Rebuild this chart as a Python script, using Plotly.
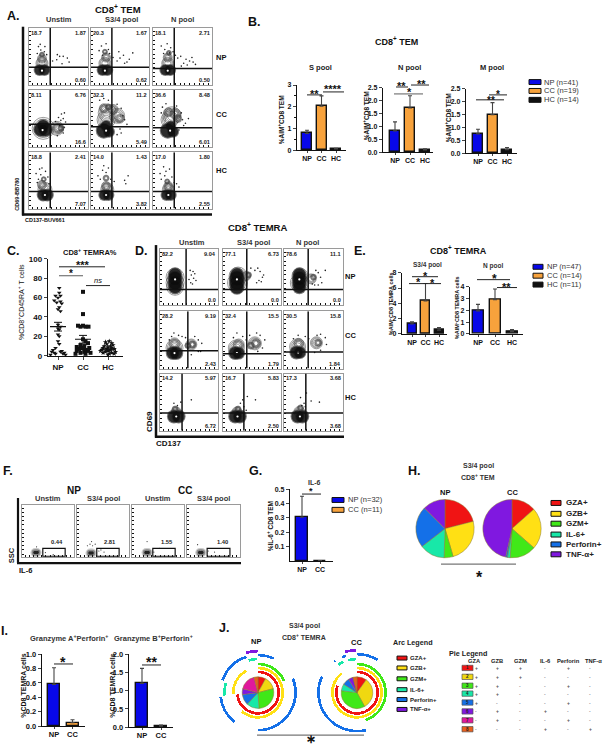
import plotly.graph_objects as go

W, H = 603, 750
FONT = "Liberation Sans"
BLUE, ORANGE, BLK = "#0808E8", "#F7A23C", "#111111"
PIE_COL = ["#F01414", "#FFE014", "#40E818", "#18E8A8", "#1470E8", "#8018E0"]
PIE8_COL = ["#F01414", "#F0D810", "#40E818", "#18E8A8", "#1470E8", "#8018E0", "#E0189C", "#E8601C"]

# ---------- bar data ----------
groups3 = ["NP", "CC", "HC"]
groups2 = ["NP", "CC"]
b_s_vals = [0.77, 2.03, 0.06]; b_s_err = [0.15, 0.47, 0.03]
b_n_vals = [0.83, 1.72, 0.09]; b_n_err = [0.35, 0.48, 0.04]
b_m_vals = [0.75, 1.50, 0.14]; b_m_err = [0.18, 0.47, 0.08]
e_s_vals = [1.3, 4.3, 0.5]; e_s_err = [0.3, 2.3, 0.35]
e_n_vals = [1.95, 2.9, 0.2]; e_n_err = [0.55, 0.9, 0.18]
g_vals = [0.305, 0.002]; g_err = [0.145, 0.002]
i_a_vals = [0.58, 0.05]; i_a_err = [0.23, 0.04]
i_b_vals = [1.2, 0.03]; i_b_err = [0.41, 0.03]

# ---------- panel C ----------
c_np_vals = [70,65,62,62,60,57,56,55,54,50,48,46,32,30,28,27,22,20,15,12,8,6,5,4,4,3,3,2,2,1,1]
c_np_off = [.05,.05,-.1,.1,0,-.15,.1,-.05,.15,.05,0,.1,0,.1,0,.05,0,.05,0,.05,-.1,-.2,.15,-.25,.1,-.15,.25,-.1,.2,-.3,.3]
c_cc_vals = [66,43,31,31,30,30,30,17,15,13,11,10,9,8,8,7,6,5,5,4,3,3,2,2]
c_cc_off = [0,0,-.2,0,.1,.22,-.1,0,.1,.2,-.1,.05,-.25,.25,0,-.15,.15,-.25,.2,.05,-.1,.3,-.3,.1]
c_hc_vals = [15,14,13,12,11,10,10,9,8,8,7,7,6,6,5,5,4,4,3,3,2,2,1]
c_hc_off = [.05,-.1,.15,-.05,.2,-.15,.1,0,-.2,.15,-.05,.25,-.25,.1,0,-.3,.3,-.1,.15,-.2,.05,.25,0]
c_means = [30, 17, 6]; c_sem = [4.5, 4, 1.2]

# ---------- flow panel A ----------
A_labels = [["18.7","1.87","0.60"],["20.3","1.67","0.62"],["18.1","2.71","0.50"],
            ["8.11","6.76","16.6"],["32.3","11.2","5.49"],["36.6","8.48","6.01"],
            ["18.8","2.41","7.07"],["14.0","1.43","3.82"],["17.0","1.80","2.55"]]
A_gates = [(36,31),(36,31),(36,29),(36,40),(36,36),(36,34),(36,30),(36,30),(36,30)]
A_core = [[(18,26,10),(26,26,10)],[(20,26,10),(28,26,10)],[(21,26,10),(29,26,10)],
          [(20,31,13),(28,31,13),(24,38,11)],[(22,29,14),(31,27,10),(26,37,10)],[(25,29,14),(34,27,10),(30,37,9)],
          [(24,24,11),(31,24,11)],[(23,24,10),(30,24,10)],[(23,24,10),(30,24,10)]]
A_rings = [[(22,38,12),(22,46,9),(22,53,5)],[(24,38,12),(26,48,9),(24,58,5)],[(25,38,12),(25,48,9),(27,56,5)],
           [(24,33,22),(47,33,14),(50,33,10),(54,33,6)],[(28,60,18),(45,55,15),(22,68,9),(38,66,10),(50,50,9),(26,48,18),(30,70,6)],
           [(32,55,18),(26,61,9),(38,58,11),(42,50,8),(28,48,17)],
           [(22,42,9),(25,52,5),(27,34,14)],[(26,40,9),(26,54,6),(28,34,13)],[(26,40,9),(24,48,5),(26,34,12)]]
A_dots = [[(16,67),(20,61),(26,58),(14,55),(30,53),(27,67),(19,71),(48,53),(52,50),(58,50),(65,47),(47,44),(40,42),(68,40),(56,37)],
          [(14,60),(18,68),(26,72),(32,55),(20,52),(30,62),(38,48),(45,42),(50,47),(56,52),(62,40),(66,45),(58,38),(72,56),(48,58)],
          [(14,68),(20,62),(24,72),(30,65),(34,58),(38,52),(42,47),(47,50),(52,38),(56,45),(62,42),(66,48),(68,40),(72,36),(58,35),(48,33),(28,56),(18,55)],
          [(50,52),(55,58),(58,50),(60,60),(52,38),(58,25),(60,35),(48,20),(54,47),(62,44),(45,45)],
          [(15,82),(22,85),(30,82),(45,75),(52,68),(55,55),(58,48),(50,32),(52,25),(45,22),(62,40)],
          [(16,70),(14,60),(22,76),(40,72),(48,60),(50,48),(55,42),(60,50),(44,30),(52,38)],
          [(12,62),(18,70),(22,72),(28,66),(16,52),(32,56),(14,46),(34,44),(20,60)],
          [(12,58),(20,68),(26,64),(30,72),(16,52),(34,52),(40,48),(58,50),(64,58),(60,44),(22,76)],
          [(12,62),(18,74),(22,66),(28,70),(14,52),(32,56),(36,46),(40,44),(20,58),(44,38)]]
A_spot = [(22,25),(24,25),(25,25),(23,30),(26,29),(29,29),(27,24),(26,24),(26,24)]

# ---------- flow panel D ----------
D_labels = [["82.2","9.04","0.0"],["77.1","6.73","0.0"],["78.6","11.1","0.0"],
            ["28.2","9.19","2.43"],["32.4","15.5","1.79"],["30.5","15.8","1.84"],
            ["14.2","5.97","6.72"],["16.7","5.83","2.50"],["17.3","3.68","3.68"]]
D_gates = [(45,28),(41,28),(41,28),(48,31),(41,26),(41,29),(38,31),(36,31),(37,31)]
D_core = [[(26,32,12),(26,40,13),(26,48,13),(26,55,12)],[(24,32,13),(24,40,14),(24,48,14),(24,55,12)],[(26,32,12),(26,40,13),(26,48,13),(26,55,12)],
          [(22,27,12),(28,27,12)],[(21,27,12),(27,27,11)],[(21,28,12),(27,28,11)],
          [(24,25,12),(32,25,12)],[(21,25,12),(29,25,12)],[(23,25,12),(31,25,12)]]
D_rings = [[(26,40,18),(26,50,18),(26,33,17)],[(25,40,20),(26,52,18),(40,52,9),(44,54,6)],[(26,40,18),(27,52,16),(46,47,10),(50,50,6)],
           [(25,36,17),(25,44,11),(54,42,11),(56,42,7),(48,40,6)],[(23,36,16),(27,42,11),(55,44,13),(57,44,9),(48,40,7)],[(23,38,16),(25,44,10),(55,45,12),(58,45,7)],
           [(28,33,10),(26,38,6)],[(24,33,10),(26,38,6)],[(26,33,11),(28,40,6)]]
D_dots = [[(52,62),(54,54),(57,60),(50,46),(58,48),(60,56),(53,40),(62,44),(56,38)],
          [(55,62),(60,66),(64,60),(68,50),(62,44),(58,40),(48,66),(66,42),(70,54)],
          [(54,62),(58,58),(62,50),(70,62),(64,40),(52,36),(48,38),(58,36)],
          [(20,56),(24,62),(32,58),(38,56),(16,50),(44,54),(60,56),(66,50),(72,44),(66,30),(54,24),(70,30)],
          [(18,54),(24,62),(34,56),(40,50),(46,58),(58,62),(64,58),(72,50),(68,36),(60,30)],
          [(16,52),(24,58),(36,56),(42,52),(56,58),(62,60),(70,54),(72,42),(62,32),(52,28)],
          [(24,48),(30,44),(36,50),(54,54)],
          [(30,48),(34,54),(36,42),(42,60),(56,54),(40,36)],
          [(28,58),(34,48),(38,66),(36,42),(46,52),(60,50),(30,44)]]
D_spot = [(26,46),(24,46),(26,46),(25,27),(24,27),(24,28),(28,25),(25,25),(27,25)]

flow_ticks = [6,14,22,30,38,46,54,62,70,78,86,94]

# ---------- flow panel F ----------
F_titles = ["Unstim", "S3/4 pool", "Unstim", "S3/4 pool"]
F_labels = ["0.44", "2.81", "1.55", "1.40"]
F_blob = [(27,9),(27,8),(29,9),(26,9)]
F_gate_x = [(40,83),(38,81),(40,83),(38,81)]
F_gate_y = (2,17)
F_dots = [[(32,12),(28,20),(45,9),(60,5)],
          [(20,22),(25,25),(30,22),(35,25),(28,30),(42,12),(46,14),(52,10)],
          [(29,30),(42,10),(53,17)],
          [(20,24),(40,12),(52,10)]]

# ---------- pies ----------
h_labels = ["GZA+", "GZB+", "GZM+", "IL-6+", "Perforin+", "TNF-α+"]
h_np = [21, 24.5, 5, 14, 23, 12.5]
h_cc = [13.5, 23, 14.5, 1.5, 1, 46.5]
j_pie_np = [8, 13, 28, 13, 11, 6, 17, 4]
j_pie_cc = [10, 32, 35, 7, 7, 5, 0, 4]

# arcs: (category index, radius, start angle, end angle)
j_arcs_np = [(0,21,0,265),(1,25,0,221),(1,25,266,332),(2,29,0,66),(3,34,265,287),(3,34,344,358),
             (4,38,68,180),(4,38,219,263),(4,38,289,342),(4,38,0,25),(5,42,343,360)]
j_arcs_cc = [(0,21,0,290),(1,25,0,322),(2,29,0,163),(3,34,345,359),(3,34,326,336),
             (4,39,166,295),(4,39,0,32),(4,39,337,343),(4,39,324,326),(5,43,344,359)]

pie_cols = ["GZA", "GZB", "GZM", "IL-6", "Perforin", "TNF-α"]
pie_rows = ["+++-+-", "+++---", "++--+-", "++----", "+---+-", "-+-+--", "-+--+-", "---+-+"]

# ---------- machinery ----------
fig = go.Figure()
layout = {}
shapes = []
anns = []
nax = [0]

def fx(x): return x / W
def fy(y): return 1 - y / H

def T(x, y, text, size=8, bold=True, angle=0, color="#111", anchor="center", italic=False):
    if "<sup>" in text:
        if angle:
            x -= size * 0.2
        else:
            y -= size * 0.2
    t = f"<b>{text}</b>" if bold else text
    if italic:
        t = f"<i>{t}</i>"
    anns.append(dict(x=fx(x), y=fy(y), xref="paper", yref="paper", text=t, showarrow=False,
                     font=dict(family=FONT, size=size, color=color), textangle=angle,
                     xanchor=anchor, yanchor="middle", align="center", borderpad=0, borderwidth=0))

def star(x, y, n=1, size=10):
    T(x, y + size * 0.22, "*" * n, size=size)

def L(x0, y0, x1, y1, color="#222", width=1.0):
    shapes.append(dict(type="line", xref="paper", yref="paper", x0=fx(x0), y0=fy(y0), x1=fx(x1), y1=fy(y1),
                       line=dict(color=color, width=width)))

def rect(x0, y0, x1, y1, fill, lw=1.0, lc="#111"):
    shapes.append(dict(type="rect", xref="paper", yref="paper", x0=fx(x0), y0=fy(y0), x1=fx(x1), y1=fy(y1),
                       fillcolor=fill, line=dict(color=lc, width=lw)))

def axes(x0, x1, ytop, ybot, xa, ya):
    nax[0] += 1
    n = "" if nax[0] == 1 else str(nax[0])
    xa = dict(domain=[fx(x0), fx(x1)], anchor="y" + n, **xa)
    ya = dict(domain=[fy(ybot), fy(ytop)], anchor="x" + n, **ya)
    layout["xaxis" + n] = xa
    layout["yaxis" + n] = ya
    return "x" + n, "y" + n

def barpanel(x0, x1, ytop, ybot, ymax, centres, cats, vals, errs, colors, ticktext, barw, tsize=7, minor=None, lw=1.4):
    s = centres[1] - centres[0]
    lo = -(centres[0] - x0) / s
    hi = lo + (x1 - x0) / s
    tv = [float(t) for t in ticktext]
    tfont = dict(family=FONT, size=tsize, color="#111", weight="bold")
    ya = dict(range=[0, ymax], tickvals=tv, ticktext=ticktext, ticks="outside", ticklen=3, tickwidth=1.2,
              showline=True, linewidth=lw, linecolor="#111", showgrid=False, zeroline=False, tickfont=tfont)
    if minor:
        ya["minor"] = dict(dtick=minor, ticks="outside", ticklen=2, tickwidth=1, tickcolor="#111")
    xa = dict(type="category", categoryorder="array", categoryarray=cats, range=[lo, hi], ticks="outside", ticklen=2, tickwidth=1.2,
              tickangle=0, ticklabelstandoff=-1, showline=True, linewidth=lw, linecolor="#111", showgrid=False, zeroline=False, tickfont=tfont)
    xn, yn = axes(x0, x1, ytop, ybot, xa, ya)
    for c, v, e, col in zip(cats, vals, errs, colors):
        fig.add_trace(go.Bar(x=[c], y=[v], width=barw / s, xaxis=xn, yaxis=yn, showlegend=False,
                             marker=dict(color=col, line=dict(color="#111", width=1.4)),
                             error_y=dict(type="data", symmetric=False, array=[e], arrayminus=[0], color="#444", thickness=1.1, width=2)))

def flow(box, gate, labels, core, rings, dots, spot, lsize=5.6):
    x0, x1, y0, y1 = box
    base = dict(range=[0, 100], showgrid=False, zeroline=False, showline=True, mirror=True, linecolor="#9a9a9a", linewidth=1,
                ticks="inside", ticklen=2, tickwidth=1, tickcolor="#111", tickvals=flow_ticks, showticklabels=False)
    xn, yn = axes(x0, x1, y0, y1, dict(base), dict(base))
    for scale, col, w in ((1.0, "#333", 0.7), (0.84, "#3a3a3a", 0.7), (0.68, "#444", 0.7), (0.5, "#444", 0.7)):
        fig.add_trace(go.Scatter(x=[r[0] for r in rings], y=[r[1] for r in rings], mode="markers", xaxis=xn, yaxis=yn, showlegend=False,
                                 marker=dict(symbol="circle-open", size=[r[2] * scale for r in rings], color=col, line=dict(width=w, color=col))))
    fig.add_trace(go.Scatter(x=[c[0] for c in core], y=[c[1] for c in core], mode="markers", xaxis=xn, yaxis=yn, showlegend=False,
                             marker=dict(size=[c[2] + 2 for c in core], color="#444", line=dict(width=0))))
    fig.add_trace(go.Scatter(x=[c[0] for c in core], y=[c[1] for c in core], mode="markers", xaxis=xn, yaxis=yn, showlegend=False,
                             marker=dict(size=[c[2] for c in core], color="#0c0c0c", line=dict(width=0))))
    fig.add_trace(go.Scatter(x=[spot[0]], y=[spot[1]], mode="markers", xaxis=xn, yaxis=yn, showlegend=False,
                             marker=dict(size=2.2, color="#fff", line=dict(width=0))))
    fig.add_trace(go.Scatter(x=[d[0] for d in dots], y=[d[1] for d in dots], mode="markers", xaxis=xn, yaxis=yn, showlegend=False,
                             marker=dict(size=1.6, color="#222", line=dict(width=0))))
    v, h = gate
    for sh in (dict(x0=v, x1=v, y0=0, y1=100), dict(x0=0, x1=100, y0=h, y1=h)):
        shapes.append(dict(type="line", xref=xn, yref=yn, line=dict(color="#111", width=1.5), **sh))
    T(x0 + 2, y0 + 5, labels[0], size=lsize, anchor="left", color="#222")
    T(x1 - 2, y0 + 5, labels[1], size=lsize, anchor="right", color="#222")
    T(x1 - 2, y1 - 5, labels[2], size=lsize, anchor="right", color="#222")

def swatches(x0, x1, ys, labels, fills, tx, size=7.5, bold=False, color="#333", h=5):
    for y, lab, c in zip(ys, labels, fills):
        rect(x0, y - h / 2, x1, y + h / 2, c)
        T(tx, y, lab, size=size, bold=bold, anchor="left", color=color)

# ---------- Panel A ----------
A_cols = [(29, 88), (91, 149), (153, 212)]
A_rows = [(24, 82), (87, 145), (150, 207)]
i = 0
for ry in A_rows:
    for cx in A_cols:
        flow((cx[0], cx[1], ry[0], ry[1]), A_gates[i], A_labels[i], A_core[i], A_rings[i], A_dots[i], A_spot[i])
        i += 1
L(23, 23, 23, 214, "#111", 2.5)
L(22, 213, 212, 213, "#111", 2.5)
T(14, 12, "A.", size=12.5)
T(118, 7, "CD8<sup>+</sup> TEM", size=9.5)
for x, s in zip([59, 121, 182], ["Unstim", "S3/4 pool", "N pool"]):
    T(x, 16, s, size=7.5, color="#333")
for y, s in zip([54, 112, 169], groups3):
    T(221, y, s, size=7.5)
T(17, 193, "CD69-BB780", size=5.5, angle=-90)
T(45, 219, "CD137-BUV661", size=5.5)

# ---------- Panel B ----------
T(254, 18, "B.", size=12.5)
T(396, 39, "CD8<sup>+</sup> TEM", size=9)
bcol = [BLUE, ORANGE, BLK]
barpanel(297, 346, 82, 148, 3, [307, 321.5, 336], groups3, b_s_vals, b_s_err, bcol, ["0", "1", "2", "3"], 10, minor=0.5)
barpanel(383, 433, 85, 150, 2.5, [395, 410, 425], groups3, b_n_vals, b_n_err, bcol, ["0.0", "0.5", "1.0", "1.5", "2.0", "2.5"], 10)
barpanel(466, 517, 86, 151, 2.5, [478, 492.5, 507], groups3, b_m_vals, b_m_err, bcol, ["0.0", "0.5", "1.0", "1.5", "2.0", "2.5"], 10)
for x, s in zip([320, 409, 492], ["S pool", "N pool", "M pool"]):
    T(x, 64, s, size=7.5, color="#222")
for x, y in zip([282, 367, 449], [117, 113, 115]):
    T(x, y, "%AIM<sup>+</sup>CD8 TEM", size=6.5, angle=-90)
L(307, 92, 322, 92); star(314, 89, 2, 11)
L(323, 89, 344, 89); star(333, 84, 4, 11)
L(396, 84, 408, 84); star(401, 81, 2, 11)
L(411, 82, 429, 82); star(421, 79, 2, 11)
L(394, 91, 423, 91, "#777", 1.2); star(409, 87, 1, 11)
L(476, 97, 504, 97); star(491, 95, 2, 10)
L(489, 92, 507, 92); star(498, 89, 1, 10)
swatches(529, 541, [79, 88, 97], ["NP (n=41)", "CC (n=19)", "HC (n=14)"], bcol, 544)

# ---------- Panel C ----------
T(14, 250, "C.", size=12.5)
T(90, 253, "CD8<sup>+</sup> TEMRA%", size=7.5)
c_tf = dict(family=FONT, size=8, color="#111", weight="bold")
cx_n, cy_n = axes(48, 123, 258, 356,
    dict(range=[-0.4, 2.6], tickvals=[0, 1, 2], ticktext=groups3, ticks="outside", ticklen=3, tickwidth=1.2, tickangle=0, showline=True, linewidth=1.4,
         linecolor="#111", showgrid=False, zeroline=False, tickfont=dict(family=FONT, size=8, color="#111", weight="bold")),
    dict(range=[0, 100], tickvals=[0, 20, 40, 60, 80, 100], ticks="outside", ticklen=3, tickwidth=1.2, showline=True, linewidth=1.4,
         linecolor="#111", showgrid=False, zeroline=False, tickfont=c_tf))
for idx, (vals, off, sym) in enumerate([(c_np_vals, c_np_off, "triangle-down"), (c_cc_vals, c_cc_off, "square"), (c_hc_vals, c_hc_off, "star")]):
    fig.add_trace(go.Scatter(x=[idx + o for o in off], y=vals, mode="markers", xaxis=cx_n, yaxis=cy_n, showlegend=False, cliponaxis=False,
                             marker=dict(symbol=sym, size=4, color="#111", line=dict(width=0))))
    fig.add_trace(go.Scatter(x=[idx], y=[c_means[idx]], mode="markers", xaxis=cx_n, yaxis=cy_n, showlegend=False,
                             marker=dict(size=0.1, color="#111"),
                             error_x=dict(type="constant", value=0.32, color="#111", thickness=1.2, width=0),
                             error_y=dict(type="data", array=[c_sem[idx]], color="#111", thickness=1, width=4)))
T(23, 302, "%CD8<sup>+</sup>CD45RA<sup>+</sup> T cells", size=7, bold=False, angle=-90)
L(59, 266, 105, 266); star(83, 262, 3, 11)
L(59, 275, 83, 275, "#777", 1.2); star(71, 271, 1, 10)
L(86, 285, 110, 285); T(98, 280, "ns", size=7.5, bold=False, italic=True)

# ---------- Panel D ----------
D_cols = [(160, 218), (223, 281), (284, 343)]
D_rows = [(248, 305), (311, 369), (374, 432)]
i = 0
for ry in D_rows:
    for cx in D_cols:
        flow((cx[0], cx[1], ry[0], ry[1]), D_gates[i], D_labels[i], D_core[i], D_rings[i], D_dots[i], D_spot[i])
        i += 1
L(156, 244, 156, 439, "#111", 2.5)
L(155, 438, 344, 438, "#111", 2.5)
T(141, 250, "D.", size=12.5)
T(257, 228, "CD8<sup>+</sup> TEMRA", size=9.5)
for x, s in zip([192, 253, 307], ["Unstim", "S3/4 pool", "N pool"]):
    T(x, 241, s, size=7.5, color="#333")
for y, s in zip([276, 336, 398], groups3):
    T(350, y, s, size=7.5)
T(150, 423, "CD69", size=8, angle=-90)
T(168, 445, "CD137", size=8)

# ---------- Panel E ----------
T(360, 250, "E.", size=12.5)
T(458, 251, "CD8<sup>+</sup> TEMRA", size=9)
barpanel(402, 447, 272, 334, 8, [412, 425.5, 438], groups3, e_s_vals, e_s_err, bcol, ["0", "2", "4", "6", "8"], 9)
barpanel(470, 523, 286, 334, 4, [478, 495, 511], groups3, e_n_vals, e_n_err, bcol, ["0", "1", "2", "3", "4"], 11)
T(427, 264, "S3/4 pool", size=6.5, color="#333")
T(493, 265, "N pool", size=6.5, color="#333")
T(392, 303, "%AIM<sup>+</sup>CD8 TEMRA cells", size=5.5, angle=-90)
T(458, 307, "%AIM<sup>+</sup>CD8 TEMRA cells", size=5.5, angle=-90)
L(412, 276, 438, 276); star(425, 273, 1, 11)
L(409, 283, 441, 283); star(418, 279, 1, 11); star(433, 280, 1, 11)
L(477, 279, 510, 279); star(494, 276, 1, 12)
L(497, 287, 517, 287); star(506, 284, 2, 11)
swatches(533, 543, [266, 275, 284], ["NP (n=47)", "CC (n=14)", "HC (n=11)"], bcol, 547)

# ---------- Panel F ----------
F_cols = [(22, 74), (77, 129), (132, 184), (187, 240)]
for k, (a, b) in enumerate(F_cols):
    base = dict(range=[0, 100], showgrid=False, zeroline=False, showline=True, mirror=True, linecolor="#9a9a9a", linewidth=1,
                ticks="inside", ticklen=2, tickwidth=1, tickcolor="#111", tickvals=flow_ticks, showticklabels=False)
    xn, yn = axes(a, b, 507, 560, dict(base), dict(base))
    px_, py_ = F_blob[k]
    for sz, col in ((9, "#cccccc"), (6.5, "#8a8a8a"), (3.5, "#222222")):
        fig.add_trace(go.Scatter(x=[px_ - 2, px_ + 2], y=[py_, py_], mode="markers", xaxis=xn, yaxis=yn, showlegend=False,
                                 marker=dict(size=sz, color=col, line=dict(width=0))))
    fig.add_trace(go.Scatter(x=[d[0] for d in F_dots[k]], y=[d[1] for d in F_dots[k]], mode="markers", xaxis=xn, yaxis=yn, showlegend=False,
                             marker=dict(size=1.2, color="#333", line=dict(width=0))))
    shapes.append(dict(type="rect", xref=xn, yref=yn, x0=F_gate_x[k][0], x1=F_gate_x[k][1], y0=F_gate_y[0], y1=F_gate_y[1],
                       line=dict(color="#111", width=1.2)))
    T((a + b) / 2, 501, F_titles[k], size=7.5, color="#333")
    T([57, 110, 167, 222][k], 545, F_labels[k], size=5.8, color="#222")
L(18, 500, 18, 566, "#111", 2.2)
L(17, 566, 241, 566, "#111", 2.2)
T(8, 473, "F.", size=12.5)
T(74, 492, "NP", size=10)
T(185, 492, "CC", size=10)
T(11, 558, "SSC", size=7.5, angle=-90)
T(25, 573, "IL-6", size=7.5)

# ---------- Panel G ----------
T(255, 473, "G.", size=12.5)
barpanel(290, 333, 491, 564, 0.5, [302, 320], groups2, g_vals, g_err, [BLUE, ORANGE], ["0.1", "0.2", "0.3", "0.4", "0.5"], 12, tsize=7)
T(314, 484, "IL-6", size=7, color="#333")
star(311, 491, 1, 9)
L(302, 496, 321, 496)
T(271, 529, "%IL-6<sup>+</sup> CD8 TEM", size=6.5, angle=-90)
swatches(332, 344, [502, 512], ["NP (n=32)", "CC (n=11)"], [BLUE, ORANGE], 348)

# ---------- Panel H ----------
T(414, 473, "H.", size=12.5)
T(478, 467.5, "S3/4 pool", size=7, color="#333")
T(478, 480, "CD8<sup>+</sup> TEM", size=7, color="#333")
T(445, 494, "NP", size=7.5)
T(512, 494, "CC", size=7.5)

def pie(cx, cy, r, vals, cols, labs):
    fig.add_trace(go.Pie(values=vals, labels=labs, sort=False, direction="clockwise", rotation=0, textinfo="none", showlegend=False,
                         domain=dict(x=[fx(cx - r), fx(cx + r)], y=[fy(cy + r), fy(cy - r)]),
                         marker=dict(colors=cols, line=dict(color="#8a7a30", width=0.5))))

pie(445, 531, 29.5, h_np, PIE_COL, h_labels)
pie(512, 531, 29.5, h_cc, PIE_COL, h_labels)
L(441, 567, 516, 567, "#777", 1.3)
star(479, 577, 1, 16)
swatches(551, 561, [505, 516, 526, 537, 547, 557], h_labels, PIE_COL, 566, size=8, bold=True, color="#222")

# ---------- Panel I ----------
T(4, 635, "I.", size=12.5)
barpanel(42, 85, 658, 731, 1.0, [54, 72.5], groups2, i_a_vals, i_a_err, [BLUE, ORANGE], ["0.0", "0.2", "0.4", "0.6", "0.8", "1.0"], 12, tsize=7.5)
barpanel(129, 173, 658, 732, 2.0, [142, 161], groups2, i_b_vals, i_b_err, [BLUE, BLK], ["0.0", "0.5", "1.0", "1.5", "2.0"], 12, tsize=7.5)
T(69, 643, "Granzyme A<sup>+</sup>Perforin<sup>+</sup>", size=7.5, color="#333")
T(153, 643, "Granzyme B<sup>+</sup>Perforin<sup>+</sup>", size=7.5, color="#333")
T(24, 690, "%CD8 TEMRA cells", size=7, angle=-90)
T(113, 690, "%CD8 TEMRA cells", size=7, angle=-90)
L(54, 668, 73, 668); star(63, 663, 1, 14)
L(142, 669, 161, 669); star(151, 663, 2, 14)

# ---------- Panel J ----------
T(224, 632, "J.", size=12.5)
T(304, 630, "S3/4 pool", size=7, color="#333")
T(304, 642, "CD8<sup>+</sup> TEMRA", size=7, color="#333")
T(256, 645, "NP", size=7.5)
T(356, 646, "CC", size=7.5)
Rmax = 46
for key, (cx, cy, arcs) in {"polar": (258, 697, j_arcs_np), "polar2": (357, 697, j_arcs_cc)}.items():
    layout[key] = dict(domain=dict(x=[fx(cx - Rmax), fx(cx + Rmax)], y=[fy(cy + Rmax), fy(cy - Rmax)]),
                       bgcolor="rgba(0,0,0,0)",
                       radialaxis=dict(visible=False, range=[0, Rmax], showticklabels=False),
                       angularaxis=dict(visible=False, direction="clockwise", rotation=90, showticklabels=False))
    for cat in range(6):
        sel = [a for a in arcs if a[0] == cat]
        fig.add_trace(go.Barpolar(r=[2.7] * len(sel), base=[a[1] - 1.35 for a in sel], theta=[(a[2] + a[3]) / 2 for a in sel],
                                  width=[a[3] - a[2] for a in sel], subplot=key, showlegend=False,
                                  marker=dict(color=PIE_COL[cat], line=dict(width=0))))
pie(258, 697, 16, j_pie_np, PIE8_COL, [str(v) for v in range(1, 9)])
pie(357, 697, 16, j_pie_cc, PIE8_COL, [str(v) for v in range(1, 9)])
L(257, 740, 364, 740, "#777", 1.3)
T(311, 743.5, "∗", size=12)
T(393, 646, "Arc Legend", size=7.2, anchor="left", color="#222")
swatches(397, 407, [662, 672, 683, 694, 704, 714], h_labels, PIE_COL, 410, size=6, bold=True, color="#222", h=4)
T(449, 657, "Pie Legend", size=7.2, anchor="left", color="#222")
pie_x = [474, 497, 520, 545, 568, 593]
for x, s in zip(pie_x, pie_cols):
    T(x, 665, s, size=5.8, color="#222")
pie_y = [672, 681, 690, 698, 707, 716, 725, 734]
pie_sx = [476, 497, 520, 545, 568, 590]
for r, (y, row) in enumerate(zip(pie_y, pie_rows)):
    rect(462, y - 2.7, 473, y + 2.7, PIE8_COL[r], lw=0.7, lc="#555")
    T(467.5, y, str(r + 1), size=4.5, color="#222")
    for x, ch in zip(pie_sx, row):
        T(x, y, ch, size=5, color="#555", bold=ch == "+")

layout.update(width=W, height=H, autosize=False, margin=dict(l=0, r=0, t=0, b=0, pad=0), paper_bgcolor="white", plot_bgcolor="rgba(0,0,0,0)",
              showlegend=False, bargap=0, shapes=shapes, annotations=anns, font=dict(family=FONT))
fig.update_layout(**layout)
fig.write_html("out.html", config=dict(displayModeBar=False),
               post_script="document.body.style.margin='0';document.body.style.overflow='hidden';")
